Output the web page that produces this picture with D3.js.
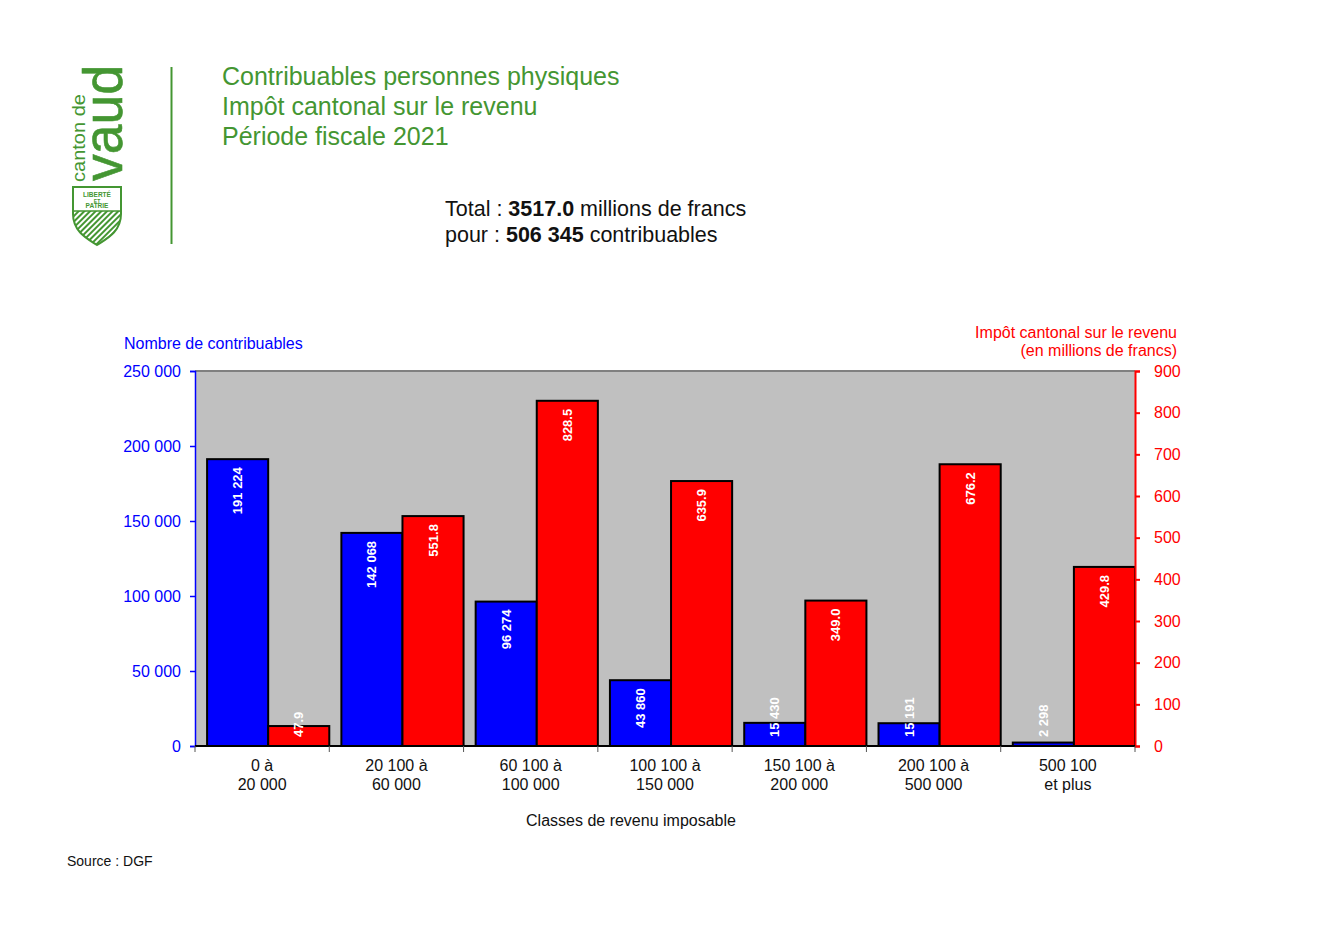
<!DOCTYPE html>
<html>
<head>
<meta charset="utf-8">
<script src="https://cdn.jsdelivr.net/npm/d3@7"></script>
<style>
  body { margin: 0; background: #fff; }
  svg { font-family: "Liberation Sans", Arial, sans-serif; }
</style>
</head>
<body>
<div id="chart"></div>
<script>
var svgWidth = 1320;
var svgHeight = 933;

// data
var categories = ["0 à|20 000", "20 100 à|60 000", "60 100 à|100 000", "100 100 à|150 000",
  "150 100 à|200 000", "200 100 à|500 000", "500 100|et plus"];
var nbContribuables = [191224, 142068, 96274, 43860, 15430, 15191, 2298];
var impotMillions = [47.9, 551.8, 828.5, 635.9, 349.0, 676.2, 429.8];
var leftTicks = [0, 50000, 100000, 150000, 200000, 250000];
var rightTicks = [0, 100, 200, 300, 400, 500, 600, 700, 800, 900];

var green = "#449632";
var plot = { left: 195, right: 1135, top: 371, bottom: 746 };

var svg = d3.select("#chart")
  .append("svg")
  .attr("width", svgWidth)
  .attr("height", svgHeight);

var fmt = function(v) { return d3.format(",")(v).replace(/,/g, " "); };

// ---- logo ----
var defs = svg.append("defs");
var pat = defs.append("pattern")
  .attr("id", "hatch")
  .attr("patternUnits", "userSpaceOnUse")
  .attr("width", 4).attr("height", 4)
  .attr("patternTransform", "rotate(45)");
pat.append("rect").attr("width", 4).attr("height", 4).attr("fill", "#fff");
pat.append("rect").attr("width", 2).attr("height", 4).attr("fill", green);

var logo = svg.append("g");
logo.append("text")
  .attr("transform", "translate(122,181) rotate(-90)")
  .attr("font-size", 56)
  .attr("textLength", 116)
  .attr("lengthAdjust", "spacingAndGlyphs")
  .attr("fill", green)
  .attr("stroke", green)
  .attr("stroke-width", 0.6)
  .text("vaud");
logo.append("text")
  .attr("transform", "translate(85,182) rotate(-90)")
  .attr("font-size", 18)
  .attr("textLength", 88)
  .attr("lengthAdjust", "spacingAndGlyphs")
  .attr("fill", green)
  .text("canton de");

defs.append("clipPath").attr("id", "shieldClip")
  .append("path")
  .attr("d", "M73,187 H121 V214 C121,232 106,239 97,245 C88,239 73,232 73,214 Z");
logo.append("rect")
  .attr("x", 72).attr("y", 211).attr("width", 50).attr("height", 36)
  .attr("fill", "url(#hatch)")
  .attr("clip-path", "url(#shieldClip)");
logo.append("path")
  .attr("d", "M73,187 H121 V214 C121,232 106,239 97,245 C88,239 73,232 73,214 Z")
  .attr("fill", "none")
  .attr("stroke", green)
  .attr("stroke-width", 2);
logo.append("line")
  .attr("x1", 73).attr("x2", 121).attr("y1", 211).attr("y2", 211)
  .attr("stroke", green).attr("stroke-width", 1.5);
[["LIBERTÉ", 197, 6.5], ["ET", 202.5, 5], ["PATRIE", 208, 6.5]].forEach(function(t) {
  logo.append("text")
    .attr("x", 97).attr("y", t[1])
    .attr("text-anchor", "middle")
    .attr("font-size", t[2])
    .attr("font-weight", "bold")
    .attr("fill", green)
    .text(t[0]);
});
logo.append("line")
  .attr("x1", 171.5).attr("x2", 171.5).attr("y1", 67).attr("y2", 244)
  .attr("stroke", green).attr("stroke-width", 2);

// ---- titles ----
["Contribuables personnes physiques", "Impôt cantonal sur le revenu", "Période fiscale 2021"]
  .forEach(function(t, i) {
    svg.append("text")
      .attr("x", 222).attr("y", 85 + i * 30)
      .attr("font-size", 25)
      .attr("fill", green)
      .text(t);
  });

var tot = svg.append("text").attr("x", 445).attr("y", 216).attr("font-size", 21.5).attr("fill", "#111");
tot.append("tspan").text("Total : ");
tot.append("tspan").attr("font-weight", "bold").text("3517.0");
tot.append("tspan").text(" millions de francs");
var pour = svg.append("text").attr("x", 445).attr("y", 242).attr("font-size", 21.5).attr("fill", "#111");
pour.append("tspan").text("pour : ");
pour.append("tspan").attr("font-weight", "bold").text("506 345");
pour.append("tspan").text(" contribuables");

// ---- scales ----
var x0 = d3.scaleBand()
  .domain(categories)
  .range([plot.left, plot.right])
  .padding(0);
var bw = x0.bandwidth();
var barW = bw * 0.455;

var yLeft = d3.scaleLinear().domain([0, 250000]).range([plot.bottom, plot.top]);
var yRight = d3.scaleLinear().domain([0, 900]).range([plot.bottom, plot.top]);

// plot background
svg.append("rect")
  .attr("x", plot.left).attr("y", plot.top)
  .attr("width", plot.right - plot.left).attr("height", plot.bottom - plot.top)
  .attr("fill", "#c0c0c0");
svg.append("line")
  .attr("x1", plot.left).attr("x2", plot.right)
  .attr("y1", plot.top).attr("y2", plot.top)
  .attr("stroke", "#808080").attr("stroke-width", 2);

// ---- bars ----
var rows = categories.map(function(c, i) {
  return { cat: c, n: nbContribuables[i], imp: impotMillions[i] };
});

var groups = svg.selectAll(".grp")
  .data(rows)
  .enter()
  .append("g")
  .attr("class", "grp");

groups.append("rect")
  .attr("x", d => x0(d.cat) + bw * 0.09)
  .attr("y", d => yLeft(d.n))
  .attr("width", barW)
  .attr("height", d => plot.bottom - yLeft(d.n))
  .attr("fill", "#0000ff")
  .attr("stroke", "#000")
  .attr("stroke-width", 2);

groups.append("rect")
  .attr("x", d => x0(d.cat) + bw * 0.09 + barW)
  .attr("y", d => yRight(d.imp))
  .attr("width", barW)
  .attr("height", d => plot.bottom - yRight(d.imp))
  .attr("fill", "#ff0000")
  .attr("stroke", "#000")
  .attr("stroke-width", 2);

// bar labels, rotated, inside the top of the bar
function addLabel(g, cx, top, txt) {
  var t = g.append("text")
    .attr("text-anchor", "end")
    .attr("dy", "0.35em")
    .attr("font-size", 13)
    .attr("font-weight", "bold")
    .attr("fill", "#fff")
    .text(txt);
  var len = t.node().getComputedTextLength();
  var yEnd = Math.min(top + 8, plot.bottom - 9 - len);
  t.attr("transform", `translate(${cx}, ${yEnd}) rotate(-90)`);
}
groups.each(function(d) {
  var g = d3.select(this);
  var bx = x0(d.cat) + bw * 0.09;
  addLabel(g, bx + barW / 2, yLeft(d.n), fmt(d.n));
  addLabel(g, bx + barW * 1.5, yRight(d.imp), d.imp.toFixed(1));
});

// ---- axes ----
var leftAxis = svg.append("g")
  .attr("transform", `translate(${plot.left}, 0)`)
  .call(d3.axisLeft(yLeft).tickValues(leftTicks).tickSize(5).tickPadding(9).tickFormat(fmt));
leftAxis.selectAll("path, line").attr("stroke", "#0000ff").attr("stroke-width", 1.5);
leftAxis.selectAll("text").attr("fill", "#0000ff").attr("font-size", 16)
  .attr("font-family", "Liberation Sans, Arial, sans-serif");

var rightAxis = svg.append("g")
  .attr("transform", `translate(${plot.right}, 0)`)
  .call(d3.axisRight(yRight).tickValues(rightTicks).tickSize(5).tickPadding(14));
rightAxis.selectAll("path, line").attr("stroke", "#ff0000").attr("stroke-width", 2);
rightAxis.selectAll("text").attr("fill", "#ff0000").attr("font-size", 16)
  .attr("font-family", "Liberation Sans, Arial, sans-serif");

var bottomAxis = svg.append("g")
  .attr("transform", `translate(0, ${plot.bottom})`);
bottomAxis.append("line")
  .attr("x1", plot.left).attr("x2", plot.right)
  .attr("stroke", "#000").attr("stroke-width", 2);
bottomAxis.selectAll(".tk")
  .data(categories.concat([null]))
  .enter()
  .append("line")
  .attr("x1", (d, i) => plot.left + i * bw)
  .attr("x2", (d, i) => plot.left + i * bw)
  .attr("y1", 0).attr("y2", 6)
  .attr("stroke", "#555");

var catLabels = bottomAxis.selectAll(".cl")
  .data(categories)
  .enter()
  .append("text")
  .attr("text-anchor", "middle")
  .attr("font-size", 16)
  .attr("fill", "#111");
catLabels.each(function(d) {
  var parts = d.split("|");
  var t = d3.select(this);
  parts.forEach(function(p, i) {
    t.append("tspan")
      .attr("x", x0(d) + bw / 2)
      .attr("y", 25 + i * 19)
      .text(p);
  });
});

// ---- axis titles ----
svg.append("text")
  .attr("x", 124).attr("y", 349)
  .attr("font-size", 16)
  .attr("fill", "#0000ff")
  .text("Nombre de contribuables");
svg.append("text")
  .attr("x", 1177).attr("y", 338)
  .attr("text-anchor", "end")
  .attr("font-size", 16)
  .attr("fill", "#ff0000")
  .text("Impôt cantonal sur le revenu");
svg.append("text")
  .attr("x", 1177).attr("y", 356)
  .attr("text-anchor", "end")
  .attr("font-size", 16)
  .attr("fill", "#ff0000")
  .text("(en millions de francs)");
svg.append("text")
  .attr("x", 631).attr("y", 826)
  .attr("text-anchor", "middle")
  .attr("font-size", 16)
  .attr("fill", "#111")
  .text("Classes de revenu imposable");
svg.append("text")
  .attr("x", 67).attr("y", 866)
  .attr("font-size", 14)
  .attr("fill", "#111")
  .text("Source : DGF");
</script>
</body>
</html>
